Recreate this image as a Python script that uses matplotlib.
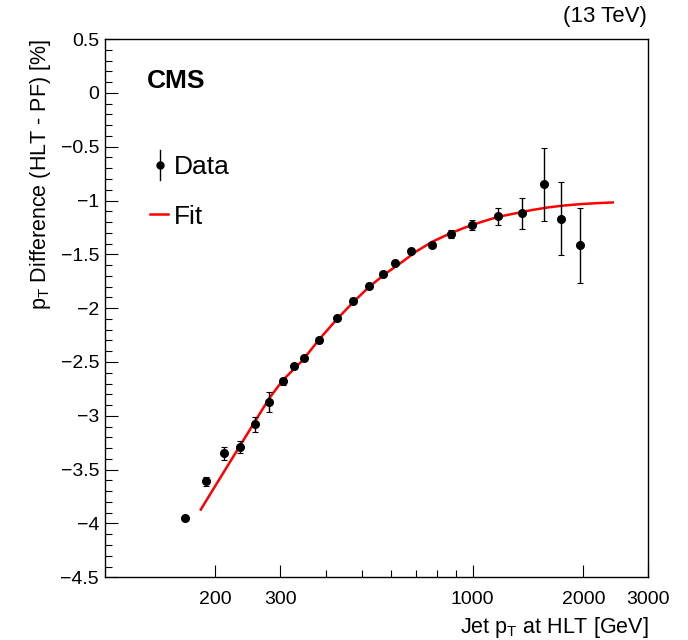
import matplotlib
matplotlib.use("Agg")
import matplotlib.pyplot as plt
from matplotlib.ticker import FixedLocator, NullFormatter, FixedFormatter

plt.rcParams['font.family'] = ['Liberation Sans', 'DejaVu Sans']
plt.rcParams['mathtext.fontset'] = 'custom'
plt.rcParams['mathtext.rm'] = 'Liberation Sans'

# Data points
pt = [165.5, 188.7, 211, 233, 256, 279, 305, 328, 349, 383, 429, 474, 524, 571,
      615, 680, 775, 872, 994, 1175, 1365, 1566, 1741, 1958]
diff = [-3.95, -3.61, -3.35, -3.29, -3.08, -2.87, -2.68, -2.54, -2.46, -2.30, -2.09,
        -1.93, -1.79, -1.68, -1.58, -1.47, -1.41, -1.31, -1.226, -1.145, -1.12, -0.85,
        -1.17, -1.415]
err = [0.02, 0.04, 0.056, 0.06, 0.07, 0.09, 0.03, 0.025, 0.02, 0.025, 0.02, 0.02,
       0.02, 0.02, 0.02, 0.02, 0.02, 0.037, 0.045, 0.08, 0.14, 0.34, 0.34, 0.35]

# Fit curve
fit_pt = [182.6, 199.5, 219.0, 240.5, 264.0, 280.9, 305.2, 345.6, 383.5, 425.6, 471.8,
          523.5, 580.9, 644.1, 700.0, 776.2, 861.3, 955.6, 1059.5, 1175.5, 1304.7,
          1446.5, 1604.6, 1780.5, 1974.5, 2190.6, 2404.5]
fit_diff = [-3.871, -3.656, -3.431, -3.206, -2.981, -2.832, -2.669, -2.483, -2.288,
            -2.112, -1.951, -1.802, -1.678, -1.570, -1.477, -1.384, -1.312, -1.250,
            -1.198, -1.151, -1.120, -1.089, -1.064, -1.046, -1.033, -1.024, -1.018]

xticks = [200, 300, 1000, 2000, 3000]
xtick_labels = ['200', '300', '1000', '2000', '3000']
yticks = [0.5, 0, -0.5, -1, -1.5, -2, -2.5, -3, -3.5, -4, -4.5]
ytick_labels = ['0.5', '0', '\u22120.5', '\u22121', '\u22121.5', '\u22122', '\u22122.5',
                '\u22123', '\u22123.5', '\u22124', '\u22124.5']

fig = plt.figure(figsize=(6.88, 6.4), dpi=100)
ax = fig.add_axes([0.152, 0.098, 0.790, 0.841])

ax.plot(fit_pt, fit_diff, color='red', lw=1.8, zorder=2)
ax.errorbar(pt, diff, yerr=err, fmt='o', color='black', ms=5.5, elinewidth=1.0,
            capsize=2, capthick=0.8, zorder=3)

ax.set_xscale('log')
ax.set_xlim(100, 3000)
ax.set_ylim(-4.5, 0.5)

ax.xaxis.set_major_locator(FixedLocator(xticks))
ax.xaxis.set_major_formatter(FixedFormatter(xtick_labels))
ax.xaxis.set_minor_locator(FixedLocator([400, 500, 600, 700, 800, 900]))
ax.xaxis.set_minor_formatter(NullFormatter())

ax.set_yticks(yticks)
ax.set_yticklabels(ytick_labels)
ax.yaxis.set_minor_locator(FixedLocator([v / 10 for v in range(-45, 6)]))

ax.tick_params(which='both', direction='in', labelsize=14, top=False, right=False)
ax.tick_params(which='major', length=9, width=0.8)
ax.tick_params(which='minor', length=5, width=0.8)
ax.tick_params(axis='x', pad=10)
ax.tick_params(axis='y', pad=4)
for s in ax.spines.values():
    s.set_linewidth(1.0)

ax.set_xlabel('Jet p$_\\mathregular{T}$ at HLT [GeV]', fontsize=15.5, loc='right',
              labelpad=5)
ax.set_ylabel('p$_\\mathregular{T}$ Difference (HLT - PF) [%]', fontsize=15.5,
              loc='top', labelpad=5)

fig.text(0.940, 0.958, '(13 TeV)', ha='right', va='bottom', fontsize=16)
ax.text(0.078, 0.909, 'CMS', transform=ax.transAxes, fontsize=19, fontweight='bold',
        ha='left', va='baseline')

# legend drawn by hand
ax.plot([0.102, 0.102], [0.738, 0.794], transform=ax.transAxes, color='black', lw=1.0)
ax.plot([0.102], [0.766], 'o', transform=ax.transAxes, color='black', ms=5)
ax.text(0.1266, 0.766, 'Data', transform=ax.transAxes, fontsize=19, ha='left',
        va='center_baseline')
ax.plot([0.0835, 0.1167], [0.6747, 0.6747], transform=ax.transAxes, color='red', lw=1.8)
ax.text(0.1266, 0.6747, 'Fit', transform=ax.transAxes, fontsize=19, ha='left',
        va='center_baseline')

fig.savefig('out.png', dpi=100)
